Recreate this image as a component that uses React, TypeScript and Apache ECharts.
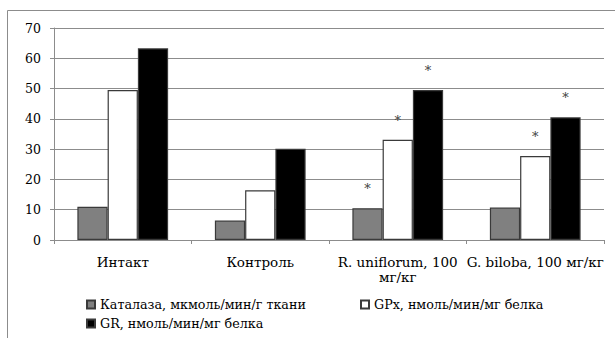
import React, { useEffect, useRef } from "react";
import * as echarts from "echarts";

const categories = ["Интакт", "Контроль", "R. uniflorum, 100\nмг/кг", "G. biloba, 100 мг/кг"];
const seriesNames = [
  "Каталаза, мкмоль/мин/г ткани",
  "GPx, нмоль/мин/мг белка",
  "GR, нмоль/мин/мг белка",
];
const catalase = [11.0, 6.4, 10.5, 10.7];
const gpx = [49.5, 16.4, 33.1, 27.7];
const gr = [63.3, 30.1, 49.5, 40.5];
const catalaseMarks = ["", "", "*", ""];
const gpxMarks = ["", "", "*", "*"];
const grMarks = ["", "", "*", "*"];
const yTicks = { min: 0, max: 70, interval: 10 };

const FONT = "DejaVu Serif";

export default function App() {
  const ref = useRef<HTMLDivElement>(null);
  useEffect(() => {
    if (!ref.current) return;
    const chart = echarts.init(ref.current, null, { renderer: "svg" });
    const mkSeries = (name: string, data: number[], marks: string[], color: string) => ({
      name,
      type: "bar",
      data,
      barGap: "0%",
      barCategoryGap: "34%",
      itemStyle: { color, borderColor: "#3a3a3a", borderWidth: 1.2 },
      label: {
        show: true,
        position: "top",
        distance: 13,
        formatter: (p: any) => marks[p.dataIndex],
        fontFamily: FONT,
        fontSize: 13,
        lineHeight: 13,
        color: "#404040",
      },
    });
    const legendCommon = {
      icon: "rect",
      itemWidth: 8,
      itemHeight: 8,
      itemGap: 0,
      textStyle: { fontFamily: FONT, fontSize: 12.7, color: "#000" },
      selectedMode: false,
    };
    chart.setOption({
      animation: false,
      textStyle: { fontFamily: FONT },
      grid: { left: 54, right: 11, top: 28, bottom: 98 },
      legend: [
        { ...legendCommon, data: [seriesNames[0]], left: 81, top: 293 },
        { ...legendCommon, data: [seriesNames[1]], left: 355, top: 293 },
        { ...legendCommon, data: [seriesNames[2]], left: 81, top: 312 },
      ],
      xAxis: {
        type: "category",
        data: categories,
        axisLine: { lineStyle: { color: "#8c8c8c", width: 1 } },
        axisTick: { show: true, length: 4, lineStyle: { color: "#8c8c8c" } },
        axisLabel: {
          fontFamily: FONT,
          fontSize: 13.5,
          lineHeight: 15,
          color: "#000",
          margin: 14,
          interval: 0,
        },
      },
      yAxis: {
        type: "value",
        min: yTicks.min,
        max: yTicks.max,
        interval: yTicks.interval,
        axisLine: { show: true, lineStyle: { color: "#8c8c8c", width: 1 } },
        axisTick: { show: true, length: 4, lineStyle: { color: "#8c8c8c" } },
        splitLine: { lineStyle: { color: "#8c8c8c", width: 1 } },
        axisLabel: { fontFamily: FONT, fontSize: 12.5, color: "#000", margin: 13 },
      },
      graphic: [
        {
          type: "rect",
          shape: { x: 7.5, y: 10.5, width: 700, height: 400 },
          style: { fill: "none", stroke: "#8c8c8c", lineWidth: 1 },
          silent: true,
        },
      ],
      series: [
        mkSeries(seriesNames[0], catalase, catalaseMarks, "#808080"),
        mkSeries(seriesNames[1], gpx, gpxMarks, "#ffffff"),
        mkSeries(seriesNames[2], gr, grMarks, "#000000"),
      ],
    });
    return () => chart.dispose();
  }, []);
  return (
    <div
      ref={ref}
      style={{ position: "fixed", left: 0, top: 0, width: 615, height: 338, background: "#fff" }}
    />
  );
}
